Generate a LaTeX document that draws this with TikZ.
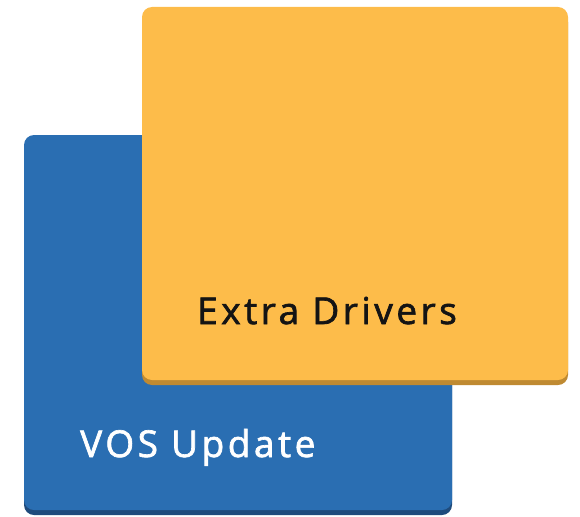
\documentclass[tikz,border=0pt]{standalone}
\usepackage{fontspec}
\setsansfont{Open Sans}[LetterSpace=9.5,FakeBold=1.8]
\usetikzlibrary{positioning,shadows}
\definecolor{vosblue}{HTML}{2A6EB2}
\definecolor{vosblueshade}{HTML}{1F4B7C}
\definecolor{drvorange}{HTML}{FDBC4A}
\definecolor{drvorangeshade}{HTML}{BF8A32}
\definecolor{drvtext}{HTML}{141414}
\tikzset{
  panel/.style={rectangle, rounded corners=10pt, inner sep=0pt, outer sep=0pt},
  paneltext/.style={inner sep=0pt, anchor=base west,
                    font=\sffamily\fontsize{37}{40}\selectfont}
}

\begin{document}
\begin{tikzpicture}[x=1pt,y=-1pt]
\useasboundingbox (0,0) rectangle (580,516);
% back panel
\node[panel, fill=vosblue, minimum width=428pt, minimum height=375pt,
      drop shadow={shadow xshift=0pt, shadow yshift=-5pt, opacity=1, fill=vosblueshade}]
      (vos) at (238,322.5) {};
\node[paneltext, text=white] (vostext)
      at ([xshift=56pt,yshift=53pt]vos.south west) {VOS Update};
% front panel
\node[panel, fill=drvorange, minimum width=426pt, minimum height=373pt,
      drop shadow={shadow xshift=0pt, shadow yshift=-5pt, opacity=1, fill=drvorangeshade}]
      (drivers) at (355,193.5) {};
\node[paneltext, text=drvtext] (driverstext)
      at ([xshift=55pt,yshift=56pt]drivers.south west) {Extra Drivers};
\end{tikzpicture}
\end{document}
